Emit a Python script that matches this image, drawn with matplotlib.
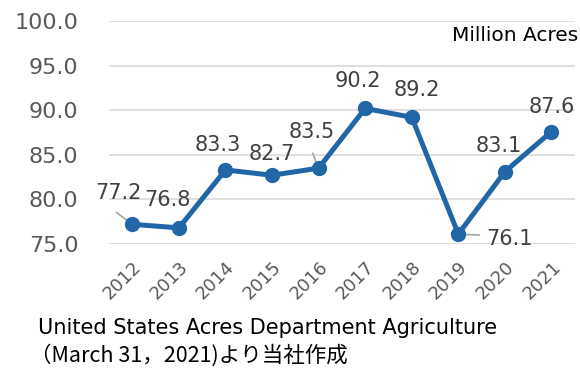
import matplotlib.pyplot as plt
from matplotlib.transforms import ScaledTranslation

years = ["2012", "2013", "2014", "2015", "2016", "2017", "2018", "2019", "2020", "2021"]
acres = [77.2, 76.8, 83.3, 82.7, 83.5, 90.2, 89.2, 76.1, 83.1, 87.6]
labels = ["77.2", "76.8", "83.3", "82.7", "83.5", "90.2", "89.2", "76.1", "83.1", "87.6"]
# label offsets in pixels (dx, dy) from each point
offsets = [(-14, 31), (-11, 28), (-8, 25), (0, 21), (-7, 36), (-7, 27), (5, 27), (51, -5), (-6, 26), (0, 25)]

plt.rcParams["font.family"] = ["DejaVu Sans", "Noto Sans CJK JP"]

fig = plt.figure(figsize=(5.8, 3.69), dpi=100)
ax = fig.add_axes([0.188, 0.339, 0.803, 0.604])

xs = list(range(len(years)))
ax.plot(xs, acres, color="#2166A6", lw=3.6, marker="o", ms=10, zorder=3)

for i, (v, t) in enumerate(zip(acres, labels)):
    dx, dy = offsets[i]
    ax.annotate(t, (i, v), xytext=(dx, dy), textcoords="offset pixels",
                ha="center", va="center", fontsize=15, color="#404040")

# leader lines
leaders = [(0, 77.2, -16, 12), (4, 83.5, -6, 15), (7, 76.1, 21, -1)]
for i, v, dx, dy in leaders:
    ax.annotate("", (i, v), xytext=(dx, dy), textcoords="offset pixels",
                arrowprops=dict(arrowstyle="-", color="#a6a6a6", lw=1.2,
                                shrinkA=0, shrinkB=0), zorder=2)

ax.set_xlim(-0.5, len(years) - 0.5)
ax.set_ylim(75, 100)
ax.set_yticks([75, 80, 85, 90, 95, 100])
ax.set_yticklabels([f"{t:.1f}" for t in [75, 80, 85, 90, 95, 100]])
ax.set_xticks(xs)
ax.set_xticklabels(years, rotation=45, ha="right", rotation_mode="anchor")
shift = ScaledTranslation(-1 / 100, 0, fig.dpi_scale_trans)
for lab in ax.get_xticklabels():
    lab.set_transform(lab.get_transform() + shift)
ax.tick_params(axis="y", length=0, labelsize=16, labelcolor="#595959", pad=22)
ax.tick_params(axis="x", length=0, labelsize=13, labelcolor="#595959", pad=10)
ax.grid(axis="y", color="#d9d9d9", lw=1.2)
ax.set_axisbelow(True)
for s in ax.spines.values():
    s.set_visible(False)

fig.text(0.997, 0.905, "Million Acres", ha="right", va="center", fontsize=14.5, color="black")
fig.text(0.066, 0.112, "United States Acres Department Agriculture", fontsize=15,
         color="black", va="center", family=["DejaVu Sans", "Noto Sans CJK JP"])
fig.text(0.052, 0.038, "（March 31，2021)より当社作成", fontsize=15.5,
         color="black", va="center", family=["Noto Sans CJK JP", "DejaVu Sans"])

fig.savefig("out.png", dpi=100)
